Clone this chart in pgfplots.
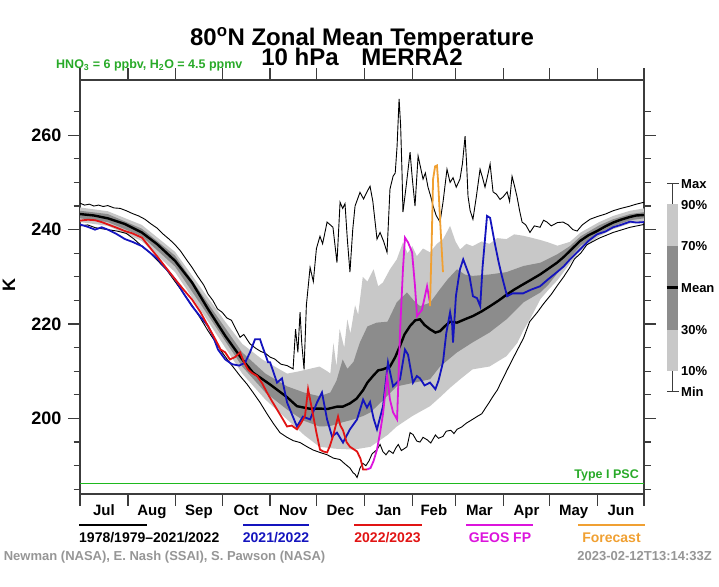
\documentclass[border=0pt]{standalone}
\usepackage{fontspec}
\setmainfont{Liberation Sans}
\usepackage{pgfplots}
\pgfplotsset{compat=1.18}
\usepgfplotslibrary{fillbetween}
\definecolor{bandlight}{RGB}{200,200,200}
\definecolor{banddark}{RGB}{140,140,140}
\definecolor{pscgreen}{RGB}{40,170,40}
\definecolor{cA}{RGB}{20,20,190}
\definecolor{cB}{RGB}{225,20,20}
\definecolor{geos}{RGB}{220,20,220}
\definecolor{fcst}{RGB}{240,160,50}
\definecolor{credit}{RGB}{150,150,150}
\definecolor{axisgray}{RGB}{60,60,60}
\newcommand{\fs}[1]{\fontsize{#1}{#1}\selectfont\bfseries}
\begin{document}
\begin{tikzpicture}
\begin{axis}[
  at={(80pt,92pt)}, anchor=south west, scale only axis,
  width=564pt, height=414pt,
  xmin=0, xmax=365, ymin=184, ymax=271.7,
  axis line style={line width=1.5pt, axisgray},
  every tick/.style={line width=1.2pt, axisgray},
  tick align=outside,
  major tick length=11.5pt, minor tick length=6.5pt,
  xtick={0,31,62,92,123,153,184,215,243,274,304,335,365},
  xticklabels={},
  extra x ticks={15.5,46.5,77,107.5,138,168.5,199.5,229,258.5,289,319.5,350},
  extra x tick labels={Jul,Aug,Sep,Oct,Nov,Dec,Jan,Feb,Mar,Apr,May,Jun},
  extra x tick style={major tick length=0pt,
    tick label style={font=\fs{15}, anchor=north, inner sep=0pt, text height=10.7pt, yshift=-11pt}},
  ytick={200,220,240,260},
  minor ytick={185,190,...,265},
  yticklabel style={font=\fs{18}, inner sep=0pt, xshift=-7pt},
  /pgf/number format/assume math mode=true,
  clip=true,
]
\addplot[draw=none, forget plot, name path=p90] coordinates {(0,244.7)(18,243.9)(40,241.0)(61.5,235.3)(83,225.5)(94,220.5)(105,215.8)(118,212.5)(134,209.5)(142,210)(155,211)(160,210)(162,209.5)(164,216)(166,211)(168,219)(171,215)(173,221)(175,218)(178,224)(180,222)(183,230)(186,229)(190,231.6)(193,228)(196,228.8)(200.6,231.6)(205,233.7)(209,237.3)(212,235)(215,236.5)(218,234.4)(222,236)(226.5,235.2)(231,237)(235,238)(239.5,240.8)(243,237.5)(246,235.8)(250,237)(254,236.5)(260,237.5)(265,237)(270,238.2)(276,238)(281,239)(287,238.7)(292,238.3)(298,237.8)(303,237.3)(309,236.6)(317,237.4)(324,239.4)(336,241.6)(345,242.9)(356,244)(365,244.5)};
\addplot[draw=none, forget plot, name path=p10] coordinates {(0,241.6)(18,240.8)(40,237.6)(61.5,231)(83,220.5)(105,209.5)(120,204)(134,199.8)(145,196.5)(155,194)(165,193.6)(177,193.4)(188,194)(199,196.5)(205,198.3)(215,200.5)(226.5,202.6)(233,204.5)(239.5,206.5)(246,208.3)(254,210.4)(265,211)(270,212)(276,213.2)(283,216)(287,218.7)(292,221.5)(298,225.3)(303,227.2)(309,229.3)(317,232.8)(324,235.7)(336,238.6)(345,240.1)(356,241.3)(365,241.6)};
\addplot[draw=none, forget plot, name path=p70] coordinates {(0,244.0)(18,243.3)(40,240.2)(61.5,234.5)(83,224.3)(105,214)(120,209.5)(134,206.8)(145,205.5)(155,204.7)(162,205.5)(166,208)(170,212.5)(173,210.5)(177,212)(181,216)(186,219.5)(192,220.3)(199,220.5)(205,224.6)(211.6,226.7)(216,225)(220,223.8)(226.5,224.5)(233,227.4)(238,229.5)(244,231.6)(249,230.5)(254,230.2)(265,230.5)(276,231)(287,232.3)(298,233)(309,234.8)(317,236.5)(324,238.6)(336,240.9)(345,242.2)(356,243.3)(365,243.7)};
\addplot[draw=none, forget plot, name path=p30] coordinates {(0,242.4)(18,241.6)(40,238.6)(61.5,232.2)(83,221.8)(105,211)(120,205.5)(134,201.9)(145,199.5)(155,198.3)(162,198.4)(170,199.2)(177,199.8)(183,200.5)(188,201.3)(195,203.5)(205,206.8)(215,207.5)(226.5,208.3)(233,211)(244,214)(254,216.1)(265,218.2)(276,221)(287,224.6)(298,226.7)(303,228.3)(309,230.8)(317,234)(324,236.6)(336,239.2)(345,240.7)(356,242)(365,242.4)};
\addplot[bandlight, draw=none, forget plot] fill between[of=p90 and p10];
\addplot[banddark, draw=none, forget plot] fill between[of=p70 and p30];
% Max
\addplot[black, line width=0.9pt] coordinates {(0,245.6)(3,245.2)(6,245.4)(9,245.0)(12,245.2)(15,244.9)(18,245.1)(22,244.6)(26,244.5)(30,244.0)(34,243.4)(38,242.9)(42,242.2)(46,241.2)(50,240.3)(54,239.0)(58,237.9)(61.5,236.8)(65,235.5)(69,233.6)(72.5,232.0)(76,230.2)(80,228.3)(83,226.3)(86,225.0)(89,223.2)(92,222.5)(95,221.3)(98,220.8)(100,219.5)(103.6,217.2)(106,217.8)(110,215.8)(114,214.8)(117,214.2)(120,213.8)(123,213.0)(126,212.6)(130,211.5)(134,211.2)(137.9,210.5)(139.5,218.9)(141,214)(142.4,222.5)(143.5,216)(145,210.4)(146.5,224)(148.9,232)(151,229)(153,236)(155.3,238.6)(157,237)(159.9,241.6)(162,241)(163.7,240.5)(166.3,233)(168.3,245.8)(170,244.5)(171.5,245.5)(173,238)(174.7,231)(176.5,240)(178,245)(181.2,247.9)(183.5,246.5)(185.7,248)(187.7,249.2)(189.5,246)(192.2,238)(194.2,239.4)(196.5,237.5)(198.7,235.2)(200.6,248.6)(202.6,251.3)(204,252)(205.2,257.7)(206.5,267.7)(207.5,262)(208.4,252)(209,243.7)(211,249)(213.6,256.4)(215,251)(216.8,245)(218.8,255.6)(220.5,253)(222,250.7)(223.5,252)(225.2,249)(227,247)(228.5,245)(230.5,243)(233,241.6)(235,246)(237.5,252.8)(239.5,250)(241.4,251)(243.5,249)(245.9,250.7)(247.5,254)(249.2,259.8)(250.2,254)(251.1,247.1)(252.5,244)(254.3,242.2)(256.5,247)(258.9,252.8)(260.5,251)(262.1,249)(263.5,251)(265.4,253.9)(267.3,248)(269.5,247.5)(271.8,246.4)(274,247)(276.4,248)(278,246)(279.6,251.3)(281,249.5)(282.8,247)(284.5,244)(286.1,241.6)(288.5,241)(291.2,239.4)(294,240.8)(297.7,240.5)(300,242)(302.2,241.6)(305,240.8)(309,241.5)(312.6,241.6)(316,241)(319,240)(321.7,239.7)(325,241)(330.1,242.2)(335,242.8)(340,243.3)(345,244)(350,244.5)(355,244.9)(360,245.4)(365,245.8)};
% Min
\addplot[black, line width=0.9pt] coordinates {(0,240.8)(5,241)(10,240.4)(18,240)(24,239.7)(30,239.2)(35,238)(40,236.5)(45,235.2)(50,233.5)(56,231.5)(61.5,229)(67,226.5)(72.5,224)(78,221.2)(83,218.5)(88,216)(92,214)(96,212.2)(100.3,210.4)(103.6,209)(108,207.3)(112,205.5)(116.5,203.4)(121,201)(125,199)(129.4,197)(134,196)(138,195.3)(142.4,194.9)(147,194)(151,193.3)(155.3,192.8)(160,192.3)(164,191.6)(168.3,191.3)(171,190.5)(174.7,189.5)(176.7,188.5)(178,188.2)(179.3,187.5)(180.3,188.5)(181.2,189.5)(183,190.5)(185,190)(187,191)(189,192.5)(192.2,193.4)(194.2,194.5)(196,193)(198,192.3)(200,193.2)(202.6,192.6)(204.5,193.8)(206,194.5)(208,193.2)(211.6,194)(213.6,197)(215.5,196.6)(218,195.2)(220,195)(222,196)(224.6,195.5)(227,194.8)(230,196.5)(232,195.8)(234.9,196.2)(237,197.3)(240,197.5)(242,196.8)(244,197.7)(247,198.2)(250,199)(253,199.6)(256.9,200.4)(260,201)(262,202)(265,203.5)(267.3,204.7)(270,206)(273,208)(276,210)(278.3,211.5)(283,214.5)(287,217)(291,220.5)(296,222.5)(300,224.3)(305,226.3)(309,228.2)(313,230)(317,232)(320,233.8)(324,235)(328,236.8)(336,238.2)(345,239.4)(356,240.5)(365,241.1)};
% Mean
\addplot[black, line width=2.4pt] coordinates {(0,243.3)(9,243.0)(18,242.4)(29,241.2)(40,239.4)(50,236.9)(61.5,233.4)(72.5,228.8)(83,223.1)(94,217.5)(105,212.5)(112,209.7)(123,207.2)(134,204.5)(140.4,202.6)(148,202.1)(155.3,202.1)(160,202.0)(166.3,202.5)(170,202.5)(174.7,203.2)(179,204.2)(183.2,206.0)(186,207.6)(189.6,209.0)(193,210.2)(196,210.4)(200.6,211)(204,213)(207,215.3)(210,217.8)(213.6,219.6)(217,220.8)(220,221)(223,219.8)(226.5,218.9)(230,218.2)(233,218.5)(236,219.5)(239.5,220.5)(244,220.3)(249,221)(254.3,221.7)(260,222.7)(265.4,223.8)(271,225)(276.4,226.3)(281,227.3)(286.7,228.4)(292,229.4)(297.7,230.5)(303,231.7)(308.7,233)(313,234.2)(317.1,235.5)(323.6,237.6)(329,238.8)(334.6,239.7)(340,240.7)(345,241.5)(350,242.1)(356,242.7)(360,243.0)(365,243.1)};
% 2021/2022
\addplot[cA, line width=1.8pt] coordinates {(0,241.1)(5,240.6)(9.7,240)(14,240.5)(18.1,240)(23,239.2)(29.1,238)(34,237.4)(40.1,236.5)(45,235.2)(50.5,233.7)(55,232)(61.5,229.5)(67,226.5)(72.5,223.8)(78,221.5)(82.8,219.6)(86,217.5)(89.3,214.6)(94,212.5)(98.4,211.5)(103,211.2)(106.8,211.8)(110,214)(113.3,216.8)(116.5,216.8)(117.8,215.5)(120,213.5)(121.7,211.9)(123,211.9)(125,210)(127.5,207.6)(130.7,208.5)(134,203.4)(137,201)(140.4,198.3)(144.3,200.4)(148.9,199.8)(153.4,203.4)(156.6,205.5)(159.9,199.8)(163.1,196.2)(166.3,197)(170.2,194.9)(174.7,197.7)(179.3,199.8)(183.2,204)(185.7,202.3)(187.7,203.5)(190,200)(192.2,197.7)(196.1,202.6)(199.3,211.9)(202.6,206.8)(207.1,208.3)(210.3,214.6)(212.3,213.5)(215.5,207.6)(218,209)(220,208.5)(223,207)(226.5,207.6)(230,206.2)(232,208)(234.9,211.9)(237,218)(239.5,222.5)(240.8,220)(241.4,216.1)(243.3,226)(245.9,231.6)(248,233.7)(252,230.2)(254.3,225.9)(256.9,225.5)(259,223.8)(260.5,232)(263.4,242.9)(265.4,242.5)(268.5,237)(271,233)(273,230.2)(276.4,225.9)(280,226.5)(286.7,226.5)(292,227.3)(297.7,228)(303,229.5)(308.7,231)(313,232.2)(317.1,233.7)(323.6,235.8)(329,237.6)(334.6,239)(340,239.6)(345,240.5)(350,241)(356,241.7)(360,241.5)(365,241.6)};
% 2022/2023
\addplot[cB, line width=1.8pt] coordinates {(0,241.9)(5,242.1)(9.7,242)(14,241.6)(18.1,241.1)(23,240.5)(29.1,239.7)(34,239.2)(40.1,238.3)(45,236.3)(50.5,234.1)(55,232.2)(61.5,229.5)(67,227.3)(72.5,225.2)(78,222.5)(82.8,219.6)(88,216.5)(91,214.6)(94,214)(97,212.5)(100.3,213)(103.6,214)(106,212)(108.7,210.4)(111,209.7)(114.6,209)(117.8,207.5)(121,205.5)(124,203.8)(127.5,201.9)(131,200)(134,198.3)(137,198.5)(140.4,197.7)(143,199)(145.6,200.5)(147.6,206.2)(149.5,203)(150.8,200.8)(153,197)(155.3,193.4)(157.5,193)(159.9,192.8)(161.5,194)(163.7,196.2)(165.5,198.5)(167,200.4)(168.5,198.5)(170.2,197.5)(172.5,195)(174.7,194)(177,193.5)(179.3,193)(181.5,191.5)(183.2,189.2)(185.7,189.2)};
% GEOS FP
\addplot[geos, line width=1.8pt] coordinates {(185.7,189.2)(188,189.5)(190,191)(192.2,193.4)(194.2,197)(196.1,201)(198.7,209)(200.6,204)(202.6,201.3)(205.2,199.8)(207.1,218.2)(209,231.6)(210.3,238.3)(212.3,237.3)(214.9,235.2)(216.8,228)(218.1,221.7)(221.3,223)(224.6,228)(226.5,224.5)};
% Forecast
\addplot[fcst, line width=1.8pt] coordinates {(226.5,223.8)(227.5,236)(228.5,250.7)(229.8,253.4)(231,253.6)(231.7,250.5)(233,242.2)(234.9,231)};
% Type I PSC threshold
\addplot[draw={rgb,255:red,30;green,185;blue,30}, line width=1.6pt, mark=none] table {
x y
0 186.2
365 186.2
};
\end{axis}
% titles
\node[anchor=base, font=\fs{24}, inner sep=0pt] at (362pt,540.5pt) {80\textsuperscript{o}N Zonal Mean Temperature};
\node[anchor=base, font=\fs{24}, inner sep=0pt] at (362pt,520.5pt) {10 hPa\hspace{0.94em}MERRA2};
\node[anchor=base west, font=\fs{12.5}, text=pscgreen, inner sep=0pt] at (56pt,517.7pt) {HNO\textsubscript{3} = 6 ppbv, H\textsubscript{2}O = 4.5 ppmv};
\node[anchor=base east, font=\fs{12.5}, text=pscgreen, inner sep=0pt] at (639pt,107.7pt) {Type I PSC};
\node[rotate=90, font=\fs{18}, inner sep=0pt] at (9pt,301pt) {K};
% right legend
\fill[bandlight] (666.7pt,215pt) rectangle (678.3pt,382pt);
\fill[banddark] (666.7pt,256pt) rectangle (678.3pt,340pt);
\draw[black, line width=2.4pt] (666.7pt,298.3pt) -- (678.3pt,298.3pt);
\draw[axisgray, line width=1pt] (672.5pt,382pt) -- (672.5pt,402pt) (667pt,402pt) -- (679pt,402pt);
\draw[axisgray, line width=1pt] (672.5pt,215pt) -- (672.5pt,194.3pt) (667pt,194.3pt) -- (679pt,194.3pt);
\begin{scope}[every node/.style={anchor=west, font=\fs{13}, inner sep=0pt}]
\node at (681pt,402pt) {Max};
\node at (681pt,381pt) {90\%};
\node at (681pt,340pt) {70\%};
\node at (681pt,298.3pt) {Mean};
\node at (681pt,256pt) {30\%};
\node at (681pt,215pt) {10\%};
\node at (681pt,194.3pt) {Min};
\end{scope}
% bottom legend
\draw[black, line width=2.2pt] (79pt,61pt) -- (147pt,61pt);
\draw[cA, line width=2.2pt] (243pt,61pt) -- (309pt,61pt);
\draw[cB, line width=2.2pt] (354pt,61pt) -- (422pt,61pt);
\draw[geos, line width=2.2pt] (466pt,61pt) -- (533pt,61pt);
\draw[fcst, line width=2.2pt] (578pt,61pt) -- (645pt,61pt);
\node[anchor=base west, font=\fs{14}, inner sep=0pt] at (79pt,44pt) {1978/1979--2021/2022};
\node[anchor=base, font=\fs{14}, inner sep=0pt, text=cA] at (276pt,44pt) {2021/2022};
\node[anchor=base, font=\fs{14}, inner sep=0pt, text=cB] at (387.5pt,44pt) {2022/2023};
\node[anchor=base, font=\fs{14}, inner sep=0pt, text=geos] at (500pt,44pt) {GEOS FP};
\node[anchor=base, font=\fs{14}, inner sep=0pt, text=fcst] at (611.5pt,44pt) {Forecast};
\node[anchor=base east, font=\fs{13}, inner sep=0pt, text=credit] at (325.5pt,26pt) {P. Newman (NASA), E. Nash (SSAI), S. Pawson (NASA)};
\node[anchor=base east, font=\fs{13}, inner sep=0pt, text=credit] at (712pt,26pt) {2023-02-12T13:14:33Z};
\pgfresetboundingbox
\path (0pt,0pt) rectangle (719pt,586pt);
\end{tikzpicture}
\end{document}
